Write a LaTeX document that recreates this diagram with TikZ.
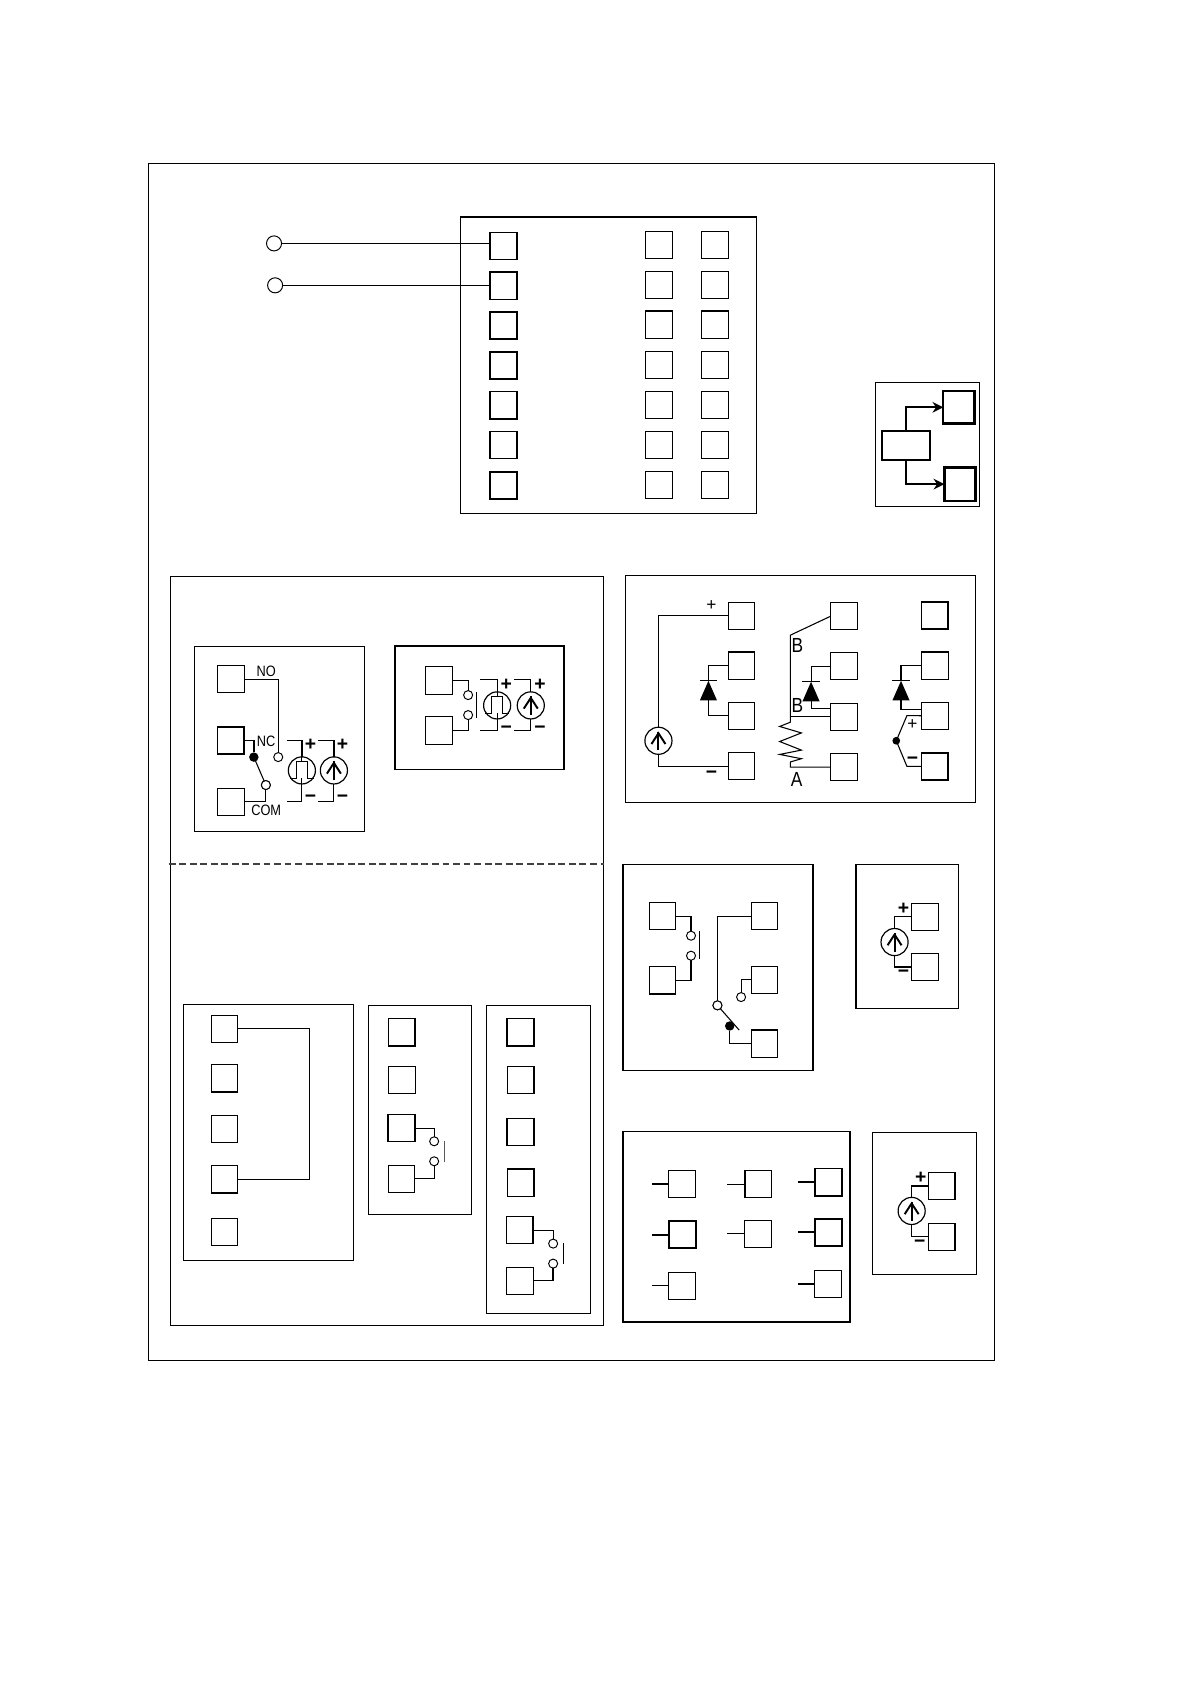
\documentclass[tikz,border=0pt]{standalone}
\usepackage{fontspec}
\setmainfont{Liberation Sans}
\usetikzlibrary{arrows.meta}
\tikzset{
  wire/.style={line width=0.5pt,line join=miter},
  wireb/.style={line width=0.85pt},
  stubn/.style={line width=0.45pt},
  stubb/.style={line width=0.9pt},
  panel/.style={draw,line width=0.48pt},
  panelb/.style={draw,line width=0.8pt},
  term/.style={draw,rectangle,minimum width=12.4pt,minimum height=12.6pt,inner sep=0pt,outer sep=0pt,line width=0.5pt},
  termb/.style={term,line width=0.8pt},
  ring/.style={draw,circle,minimum size=4.2pt,inner sep=0pt,outer sep=0pt,line width=0.45pt,fill=white},
  dot/.style={circle,fill=black,minimum size=4.4pt,inner sep=0pt,outer sep=0pt},
  src/.style={draw,circle,minimum size=12.6pt,inner sep=0pt,outer sep=0pt,line width=0.55pt,fill=white},
  lbl/.style={inner sep=0pt,xscale=0.85,font=\fontsize{7}{8}\selectfont},
  lblb/.style={inner sep=0pt,xscale=0.85,font=\fontsize{9.5}{10}\selectfont},
  pm/.style={inner sep=0pt,font=\fontsize{9}{9}\selectfont\bfseries},
  pmt/.style={inner sep=0pt,font=\fontsize{8}{9}\selectfont},
  gbar/.style={line width=0.5pt,draw=black!65}
}
\newcommand\curr[1]{%
  \draw[line width=0.9pt] ([shift={(0,9)}]#1.center) -- ([shift={(0,-8.5)}]#1.center);
  \draw[line width=0.9pt] ([shift={(-6.5,3)}]#1.center) -- ([shift={(0,-7)}]#1.center) -- ([shift={(6.5,3)}]#1.center);}
\newcommand\puls[1]{%
  \draw[line width=0.4pt] ([shift={(-11,7)}]#1.center) -- ([shift={(-5.5,7)}]#1.center) -- ([shift={(-5.5,-8)}]#1.center) -- ([shift={(5,-8)}]#1.center) -- ([shift={(5,7)}]#1.center) -- ([shift={(11,7)}]#1.center);
  \draw[line width=0.4pt] (#1.north) -- ([shift={(0,-8)}]#1.center);
  \draw[line width=0.4pt] (#1.south) -- ([shift={(0,7)}]#1.center);}
\newcommand\diode[3]{%
  \coordinate (#1a) at (#2,#3);
  \coordinate (#1b) at (#2,#3+18.3);
  \fill (#1a) -- ([shift={(-8,18.3)}]#1a) -- ([shift={(8,18.3)}]#1a) -- cycle;
  \draw[wire] ([shift={(-8,0)}]#1a) -- ([shift={(8,0)}]#1a);}
\begin{document}
\begin{tikzpicture}[x=0.5pt,y=-0.5pt]
\useasboundingbox (0,0) rectangle (1107,1567);
\fill[white] (0,0) rectangle (1107,1567);
% outer frame
\draw[panel] (138.5,152.5) rectangle (925.7,1265.7);
% top terminal block
\draw[panel] (428.2,202) rectangle (704,478);
\draw[line width=1pt] (428,202) -- (704,202);
\foreach \i/\y in {1/229,2/266,3/303,4/340,5/377,6/414,7/452}{
  \node[termb] (l\i) at (468.5,\y) {};
}
\foreach \i/\y in {1/228,2/265,3/302,4/340,5/377,6/414,7/451}{
  \node[term] (m\i) at (613.2,\y) {};
  \node[term] (r\i) at (665.3,\y) {};
}
\node[ring,minimum size=7pt] (ca) at (255,226.5) {};
\node[ring,minimum size=7pt] (cb) at (256,265.5) {};
\draw[wire] (ca.east) -- (ca.east -| l1.west);
\draw[wire] (cb.east) -- (cb.east -| l2.west);
% small arrow box
\draw[panel] (815,356) rectangle (911.7,471);
\node[termb,line width=1.1pt,minimum width=14.5pt,minimum height=15pt] (ba) at (892.2,379) {};
\node[termb,line width=1.1pt,minimum width=14.5pt,minimum height=15.5pt] (bb) at (893.2,450.5) {};
\node[termb,minimum width=22.5pt,minimum height=13.5pt] (bc) at (843.2,414.5) {};
\draw[line width=1pt,-{Stealth[length=5pt,width=5pt]}] (bc.north) |- (ba.west);
\draw[line width=1.15pt,-{Stealth[length=5pt,width=5pt]}] (bc.south) |- (bb.west);
% panel A
\draw[panel] (158.5,536.3) rectangle (561.7,1233.7);
\draw[line width=0.7pt,draw=black!75,dash pattern=on 3.2pt off 1.7pt] (157,804) -- (562,804);
% sub box 1
\draw[panel] (181,602) rectangle (339,774);
\node[term] (a1) at (214.7,632) {};
\node[termb] (a2) at (214.7,689) {};
\node[term] (a3) at (214.7,746) {};
\node[ring] (ano) at (258.9,704.5) {};
\node[dot] (anc) at (236.2,704.5) {};
\node[ring] (acm) at (247.4,730.5) {};
\node[src] (ap) at (280.9,716.9) {};
\node[src] (ai) at (310.7,716.9) {};
\node[lbl] (tno) at (247.7,625) {NO};
\node[lbl] (tnc) at (247.7,689.5) {NC};
\node[lbl] (tcm) at (247.7,754) {COM};
\draw[wire] (a1.east) -| (ano.north);
\draw[wireb] (a2.east) -| (anc.north);
\draw[wire] (anc.center) -- (acm.center);
\node[ring] at (acm.center) {};
\draw[wire] (acm.south) |- (a3.east);
\puls{ap}\curr{ai}
\coordinate (ap1) at (266.6,689);\coordinate (ap2) at (266.6,745.4);
\coordinate (ai1) at (295.8,689);\coordinate (ai2) at (295.8,745.4);
\draw[wireb] (ap1) -| (ap.north);
\draw[wire] (ap.south) |- (ap2);
\draw[wireb] (ai1) -| (ai.north);
\draw[wire] (ai.south) |- (ai2);
\node[pm] (p1) at (289,693.3) {+};
\node[pm] (p2) at (318.7,693.3) {+};
\node[pm] (n1) at (289,743.6) {−};
\node[pm] (n2) at (318.7,743.6) {−};
% sub box 2
\draw[panelb] (367.5,601) rectangle (525,716);
\node[term,minimum height=12.9pt] (b1) at (408.6,633) {};
\node[term,minimum height=12.9pt] (b2) at (408.6,679.7) {};
\node[ring] (br1) at (435.6,646.8) {};
\node[ring] (br2) at (435.6,665.4) {};
\node[src] (bp) at (462.6,656.4) {};
\node[src] (bi) at (493.9,656.4) {};
\draw[wire] (b1.east) -| (br1.north);
\draw[wire] (br2.south) |- (b2.east);
\coordinate (bb1) at (443,644);\coordinate (bb2) at (443,668.5);
\draw[wire] (bb1) -- (bb2);
\puls{bp}\curr{bi}
\coordinate (bp1) at (446.5,632.5);\coordinate (bp2) at (446.5,679.7);
\coordinate (bi1) at (478.1,632.5);\coordinate (bi2) at (478.1,679.7);
\draw[wire] (bp1) -| (bp.north);
\draw[wire] (bp.south) |- (bp2);
\draw[wire] (bi1) -| (bi.north);
\draw[wire] (bi.south) |- (bi2);
\node[pm] (p3) at (471,637.5) {+};
\node[pm] (p4) at (502.6,637.5) {+};
\node[pm] (n3) at (471,679) {−};
\node[pm] (n4) at (502.6,679) {−};
% sub box a
\draw[panel] (170.5,935) rectangle (328.6,1172.5);
\foreach \i/\y in {1/957.4,2/1003.5,3/1050.8,4/1097.5,5/1146.7}{
  \node[term] (c\i) at (208.8,\y) {};
}
\coordinate (cw) at (287.7,1026);
\draw[wire] (c1.east) -| (cw) |- (c4.east);
% sub box b
\draw[panel] (342.8,935.5) rectangle (438.7,1130);
\node[termb] (d1) at (374,960.4) {};
\node[term] (d2) at (374,1005) {};
\node[termb] (d3) at (373.5,1049.7) {};
\node[term] (d4) at (373.5,1096.7) {};
\node[ring] (dr1) at (404,1062) {};
\node[ring] (dr2) at (404,1080.6) {};
\draw[wire] (d3.east) -| (dr1.north);
\draw[wire] (dr2.south) |- (d4.east);
\coordinate (db1) at (413.6,1061.7);\coordinate (db2) at (413.6,1081.5);
\draw[gbar] (db1) -- (db2);
% sub box c
\draw[panel,line width=0.6pt] (453,935.5) rectangle (549.2,1222);
\node[termb] (e1) at (484.5,960.4) {};
\node[term] (e2) at (484.5,1005) {};
\node[termb] (e3) at (484.5,1053.4) {};
\node[term] (e4) at (484.5,1100.4) {};
\node[termb] (e5) at (483.7,1144.6) {};
\node[term] (e6) at (483.7,1191.6) {};
\node[ring] (er1) at (514.7,1157.2) {};
\node[ring] (er2) at (514.7,1175.8) {};
\draw[wire] (e5.east) -| (er1.north);
\draw[wireb] (er2.south) |- (e6.east);
\coordinate (eb1) at (524,1156.6);\coordinate (eb2) at (524,1176.4);
\draw[wire] (eb1) -- (eb2);
% right top panel
\draw[panel] (582,535.5) rectangle (908,746.5);
\node[term] (f1) at (690,572.9) {};
\node[term] (f2) at (690,619.3) {};
\node[term] (f3) at (690,666) {};
\node[term] (f4) at (690,713.1) {};
\node[term] (g1) at (785.1,573.5) {};
\node[term] (g2) at (785.1,620) {};
\node[term] (g3) at (785.1,666.8) {};
\node[term] (g4) at (785.1,713.8) {};
\node[termb] (h1) at (869.8,572.9) {};
\node[term] (h2) at (869.8,619.3) {};
\node[term] (h3) at (869.8,666) {};
\node[termb] (h4) at (869.8,713.1) {};
% left of right-top
\node[src] (fi) at (612.7,689.3) {};
\curr{fi}
\draw[wire] (f1.west) -| (fi.north);
\draw[wire] (fi.south) |- (f4.west);
\node[pmt] (tp) at (662,563.7) {+};
\node[pm] (tn) at (662,720.6) {−};
\diode{dA}{659.2}{633.5}
\draw[wire] (f2.west) -| (dAa);
\draw[wire] (dAb) |- (f3.west);
% middle of right-top
\coordinate (mB) at (735.5,591);
\coordinate (mS) at (735.5,672);
\coordinate (mE) at (735.5,713.8);
\coordinate (mJ) at (735.5,666.8);
\draw[wire] (g1.west) -- (mB) -- (mS)
  -- (725.5,676) -- (745.7,682) -- (725.5,690) -- (745.7,698) -- (725.5,702) -- (745.7,706) -- (735.5,709) -- (mE) -- (g4.west);
\draw[wire] (mJ) -- (g3.west);
\node[lblb] (tB1) at (742,601) {B};
\node[lblb] (tB2) at (742,656.7) {B};
\node[lblb] (tA) at (741.3,725.6) {A};
\diode{dB}{754.7}{634.4}
\draw[wire] (g2.west) -| (dBa);
\draw[wire] (dBb) |- ([shift={(0,-7.3)}]g3.west);
% right of right-top
\diode{dC}{838.4}{633.5}
\draw[wire] (h2.west) -| (dCa);
\draw[wire] (dCb) |- ([shift={(0,-6.2)}]h3.west);
\node[dot,minimum size=3.6pt] (hd) at (834,689.3) {};
\coordinate (hu) at (843.9,665.9);
\coordinate (hl) at (843.9,713.1);
\draw[wire] (h3.west) -- (hu) -- (hd.center) -- (hl) -- (h4.west);
\node[pmt] (hp) at (849,674) {+};
\node[pm] (hn) at (849,708) {−};
% relay box
\draw[panelb] (580,804.5) rectangle (756.5,996);
\node[term,minimum height=12.9pt] (k1) at (616.5,852.4) {};
\node[term,minimum height=12.9pt] (k2) at (616.5,912) {};
\node[term,minimum width=11.9pt] (k3) at (711.3,852.4) {};
\node[term,minimum width=11.9pt] (k4) at (711.3,911.6) {};
\node[term,minimum width=11.9pt] (k5) at (711.3,971) {};
\node[ring] (kr1) at (643,870.7) {};
\node[ring] (kr2) at (643,889.3) {};
\draw[wire] (k1.east) -| (kr1.north);
\draw[wire] (kr2.south) |- (k2.east);
\coordinate (kb1) at (651.1,866.7);\coordinate (kb2) at (651.1,892.4);
\draw[wire] (kb1) -- (kb2);
\node[ring] (kc) at (667.6,935.5) {};
\node[ring] (ko) at (689.6,927.8) {};
\node[dot] (kd) at (679,954.7) {};
\draw[wire] (k3.west) -| (kc.north);
\draw[wire] (k4.west) -| (ko.north);
\coordinate (kbl) at (687.8,958.5);
\draw[wire] (kc.center) -- (kbl);
\node[ring] at (kc.center) {};
\draw[wire] (kd.south) |- (k5.west);
% current box 1
\draw[panel,line width=0.7pt] (796.5,804.5) rectangle (892,938.5);
\node[term] (u1) at (860.7,853.2) {};
\node[term] (u2) at (860.7,900) {};
\node[src] (ui) at (832.4,876.6) {};
\curr{ui}
\draw[wire] (u1.west) -| (ui.north);
\draw[wireb] (ui.south) |- (u2.west);
\node[pm] (up) at (840.7,845.6) {+};
\node[pm] (un) at (840.7,906.4) {−};
% stub box
\draw[panelb] (580,1053) rectangle (791,1230);
\node[term] (s1) at (634.8,1102) {};
\node[termb] (s2) at (635.2,1148.8) {};
\node[term] (s3) at (634.4,1196.6) {};
\node[termb] (s4) at (705.5,1101.8) {};
\node[term] (s5) at (705.5,1148.2) {};
\node[termb] (s6) at (771,1100) {};
\node[termb] (s7) at (771,1146.7) {};
\node[term] (s8) at (770.7,1194.7) {};
\foreach \n/\x/\w in {s1/606.8/stubb,s2/606.8/stubb,s3/606.8/stubn,s4/676.9/stubn,s5/676.9/stubn,s6/742.6/stubb,s7/742.6/stubb,s8/742.6/stubb}{
  \coordinate (\n x) at (\x,0);
  \draw[\w] (\n.west) -- (\n x |- \n.west);
}
% current box 2
\draw[panel] (812,1053.5) rectangle (908.2,1185.5);
\node[term] (v1) at (876.2,1103.6) {};
\node[term] (v2) at (876.2,1150.7) {};
\node[src] (vi) at (848.3,1126.8) {};
\curr{vi}
\draw[wire] (v1.west) -| (vi.north);
\draw[wire] (vi.south) |- (v2.west);
\node[pm] (vp) at (856.7,1096.1) {+};
\node[pm] (vn) at (855.8,1157.2) {−};
\end{tikzpicture}
\end{document}
